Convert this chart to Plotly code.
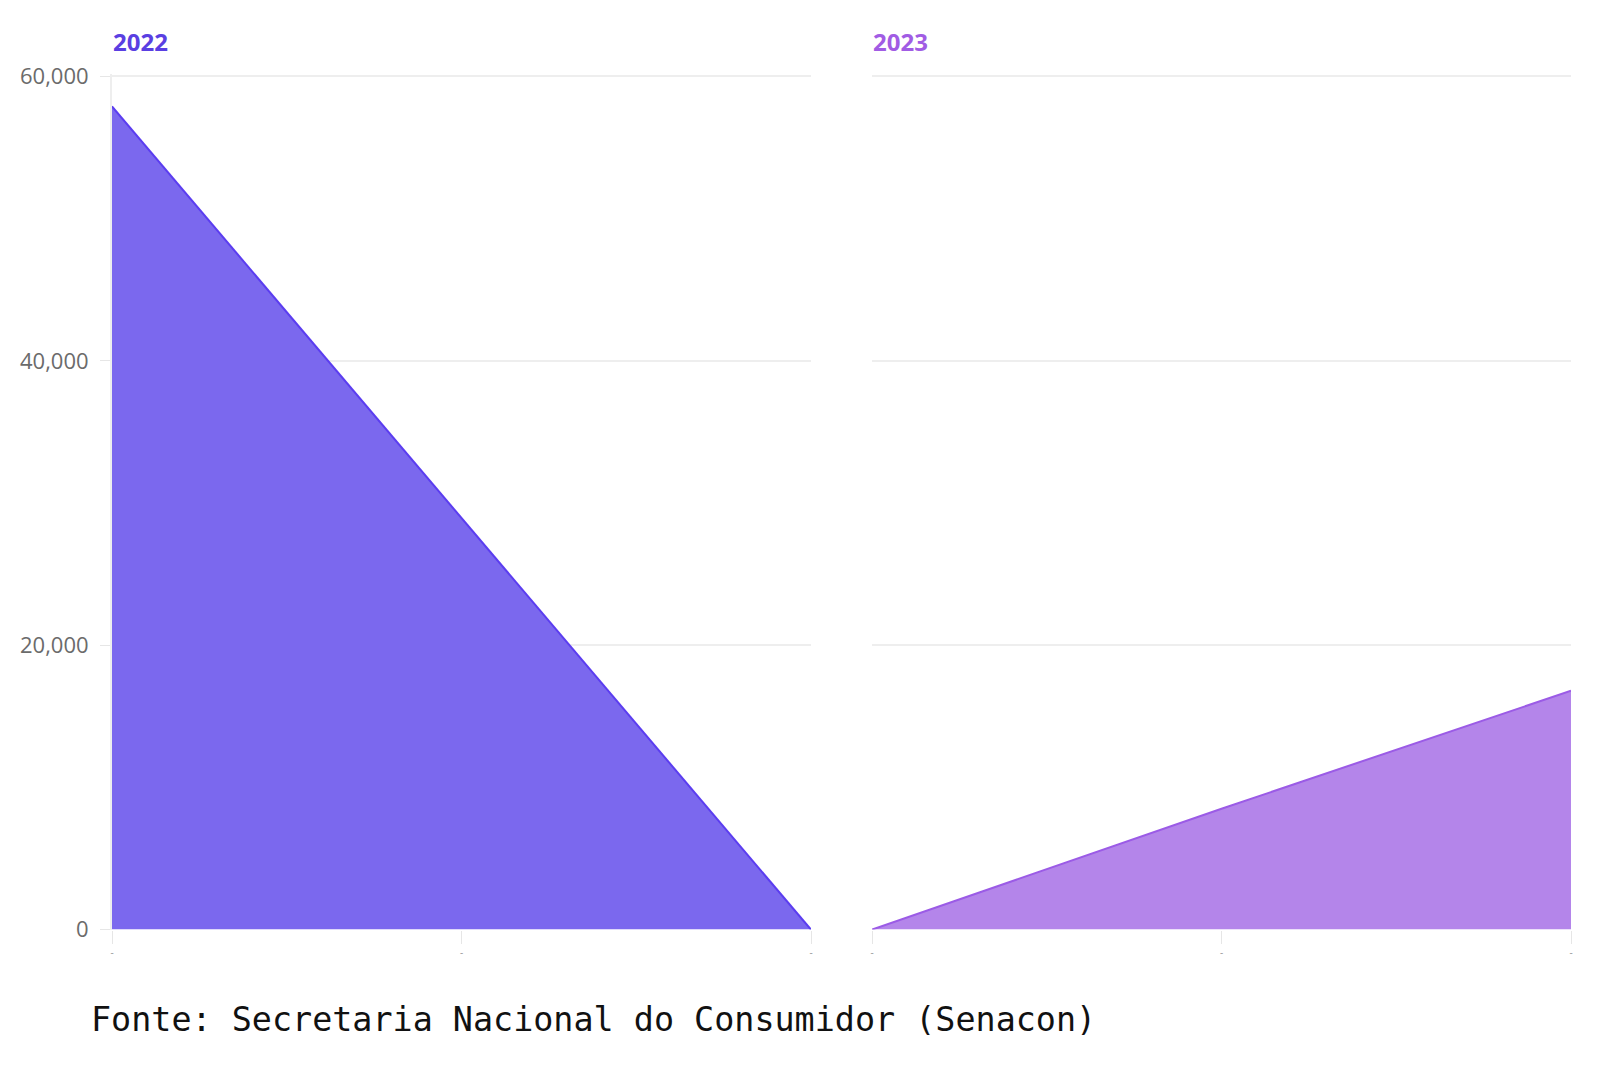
import plotly.graph_objects as go

# ---- data ----
x_points = [0, 1, 2]
x_tick_labels = ["-", "-", "-"]
values_2022 = [57900, 28950, 0]
values_2023 = [0, 8500, 16800]
panel_titles = ["2022", "2023"]
y_ticks = [0, 20000, 40000, 60000]
source_text = "Fonte: Secretaria Nacional do Consumidor (Senacon)"

fill_colors = ["#7B68EE", "#B485EA"]
line_colors = ["#5B3DF0", "#9B5BE6"]
title_colors = ["#5A3FE2", "#A15CE4"]

W, H = 1600, 1091
fig = go.Figure()

fig.add_trace(go.Scatter(x=x_points, y=values_2022, mode="lines", fill="tozeroy",
                         fillcolor=fill_colors[0], line=dict(color=line_colors[0], width=2),
                         xaxis="x", yaxis="y", showlegend=False, hoverinfo="y"))
fig.add_trace(go.Scatter(x=x_points, y=values_2023, mode="lines", fill="tozeroy",
                         fillcolor=fill_colors[1], line=dict(color=line_colors[1], width=2),
                         xaxis="x2", yaxis="y2", showlegend=False, hoverinfo="y"))

y_top = 60200
px_per = (929.6 - 76.5) / 60000
ydom = [1 - 929.6 / H, 1 - (929.6 - y_top * px_per) / H]
xdom1 = [112 / W, 811 / W]
xdom2 = [872 / W, 1571 / W]

xcommon = dict(range=[0, 2], tickmode="array", tickvals=x_points, ticktext=x_tick_labels,
               ticks="outside", ticklen=13, tickcolor="#E6E6E6", tickwidth=1,
               tickfont=dict(size=10, color="#999999", family="Open Sans"),
               showgrid=False, zeroline=False, showline=False, automargin=False,
               fixedrange=True)
ycommon = dict(range=[0, y_top], tickmode="array", tickvals=y_ticks,
               showgrid=True, gridcolor="#EEEEEE", gridwidth=2, zeroline=False,
               automargin=False, fixedrange=True)

fig.update_layout(
    width=W, height=H,
    margin=dict(l=0, r=0, t=0, b=0),
    paper_bgcolor="white", plot_bgcolor="white",
    xaxis=dict(domain=xdom1, anchor="y", **xcommon),
    xaxis2=dict(domain=xdom2, anchor="y2", **xcommon),
    yaxis=dict(domain=ydom, anchor="x", showticklabels=True, tickformat=",d",
               ticks="outside", ticklen=10, tickcolor="#E6E6E6",
               ticklabelstandoff=7,
               tickfont=dict(size=22, color="#6B6B6B", family="Open Sans"),
               showline=True, linecolor="#EEEEEE", linewidth=2, **ycommon),
    yaxis2=dict(domain=ydom, anchor="x2", showticklabels=False, ticks="", **ycommon),
    annotations=[
        dict(text=f"<b>{panel_titles[0]}</b>", x=111 / W, y=1 - 41 / H, xref="paper", yref="paper",
             xanchor="left", yanchor="middle", showarrow=False,
             font=dict(size=24, color=title_colors[0], family="Open Sans")),
        dict(text=f"<b>{panel_titles[1]}</b>", x=871 / W, y=1 - 41 / H, xref="paper", yref="paper",
             xanchor="left", yanchor="middle", showarrow=False,
             font=dict(size=24, color=title_colors[1], family="Open Sans")),
        dict(text=source_text, x=89 / W, y=1 - 1020 / H, xref="paper", yref="paper",
             xanchor="left", yanchor="middle", showarrow=False,
             font=dict(size=33.4, color="#111111", family="DejaVu Sans Mono")),
    ],
)

fig.write_html("out.html")
